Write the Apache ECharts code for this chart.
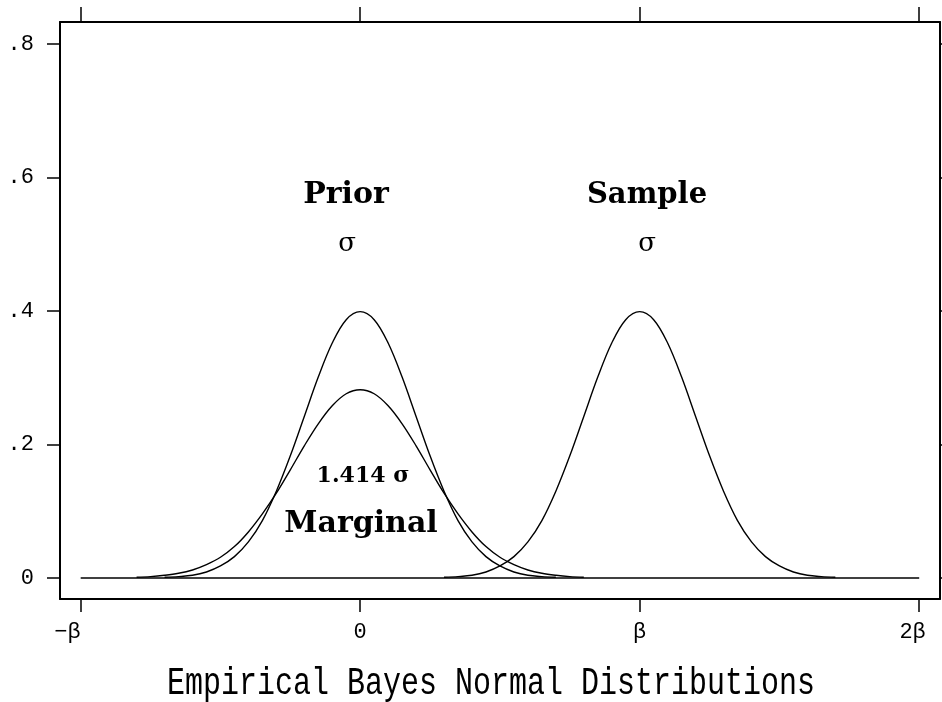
<!DOCTYPE html>
<html>
<head>
<meta charset="utf-8">
<script src="https://cdn.jsdelivr.net/npm/echarts@6/dist/echarts.min.js"></script>
<style>html,body{margin:0;padding:0;background:#fff}#c{width:942px;height:702px}</style>
</head>
<body>
<div id="c"></div>
<script>
// Tick positions (β = 5 units, σ = 1 unit)
const xTickValues = [-5, 0, 5, 10];
const xTickLabels = ['−β  ', '0', 'β', '2β '];
const yTickValues = [0, 0.2, 0.4, 0.6, 0.8];
const yTickLabels = ['0', '.2', '.4', '.6', '.8'];

// Prior curve (centred at 0, σ)
const priorX = [-3.5,-3.25,-3,-2.75,-2.5,-2.25,-2,-1.75,-1.5,-1.25,-1,-0.75,-0.5,-0.25,0,0.25,0.5,0.75,1,1.25,1.5,1.75,2,2.25,2.5,2.75,3,3.25,3.5];
const priorY = [0.001,0.002,0.004,0.009,0.018,0.032,0.054,0.086,0.130,0.183,0.242,0.301,0.352,0.387,0.399,0.387,0.352,0.301,0.242,0.183,0.130,0.086,0.054,0.032,0.018,0.009,0.004,0.002,0.001];

// Marginal curve (centred at 0, labelled 1.414 σ)
const marginalX = [-4,-3.75,-3.5,-3.25,-3,-2.75,-2.5,-2.25,-2,-1.75,-1.5,-1.25,-1,-0.75,-0.5,-0.25,0,0.25,0.5,0.75,1,1.25,1.5,1.75,2,2.25,2.5,2.75,3,3.25,3.5,3.75,4];
const marginalY = [0.001,0.002,0.004,0.007,0.012,0.020,0.031,0.047,0.069,0.096,0.127,0.162,0.198,0.231,0.258,0.276,0.282,0.276,0.258,0.231,0.198,0.162,0.127,0.096,0.069,0.047,0.031,0.020,0.012,0.007,0.004,0.002,0.001];

// Sample curve (centred at β, σ)
const sampleX = [1.5,1.75,2,2.25,2.5,2.75,3,3.25,3.5,3.75,4,4.25,4.5,4.75,5,5.25,5.5,5.75,6,6.25,6.5,6.75,7,7.25,7.5,7.75,8,8.25,8.5];
const sampleY = [0.001,0.002,0.004,0.009,0.018,0.032,0.054,0.086,0.130,0.183,0.242,0.301,0.352,0.387,0.399,0.387,0.352,0.301,0.242,0.183,0.130,0.086,0.054,0.032,0.018,0.009,0.004,0.002,0.001];

// Baseline
const baseX = [-5, 10];
const baseY = [0, 0];

const pairs = (xs, ys) => xs.map((x, i) => [x, ys[i]]);
const pick = (vals, labs) => v => { const i = vals.findIndex(t => Math.abs(t - v) < 1e-6); return i < 0 ? '' : labs[i]; };

const black = '#000';
const tickFont = { fontFamily: 'Liberation Mono', fontSize: 22, color: black };

const lineSeries = (name, data) => ({
  name, type: 'line', data, smooth: 0.35, symbol: 'none',
  lineStyle: { color: black, width: 1.4 }, silent: true, animation: false
});

const chart = echarts.init(document.getElementById('c'), null, { renderer: 'canvas' });
chart.setOption({
  animation: false,
  backgroundColor: '#fff',
  grid: { left: 60, right: 1, top: 22, bottom: 103, containLabel: false },
  xAxis: [
    {
      type: 'value', position: 'bottom', min: -5.37, max: 10.37,
      axisLine: { show: true, onZero: false, lineStyle: { color: black, width: 2 } },
      axisTick: { show: true, customValues: xTickValues, length: 13, lineStyle: { color: black, width: 1.5 } },
      axisLabel: { show: true, customValues: xTickValues, formatter: pick(xTickValues, xTickLabels), margin: 22, ...tickFont },
      splitLine: { show: false }
    },
    {
      type: 'value', position: 'top', min: -5.37, max: 10.37,
      axisLine: { show: true, onZero: false, lineStyle: { color: black, width: 2 } },
      axisTick: { show: true, customValues: xTickValues, length: 15, lineStyle: { color: black, width: 1.5 } },
      axisLabel: { show: false },
      splitLine: { show: false }
    }
  ],
  yAxis: [
    {
      type: 'value', position: 'left', min: -0.0315, max: 0.833,
      axisLine: { show: true, onZero: false, lineStyle: { color: black, width: 2 } },
      axisTick: { show: true, customValues: yTickValues, length: 13, lineStyle: { color: black, width: 1.5 } },
      axisLabel: { show: true, customValues: yTickValues, formatter: pick(yTickValues, yTickLabels), margin: 26, ...tickFont },
      splitLine: { show: false }
    },
    {
      type: 'value', position: 'right', min: -0.0315, max: 0.833,
      axisLine: { show: true, onZero: false, lineStyle: { color: black, width: 2 } },
      axisTick: { show: true, customValues: yTickValues, length: 13, lineStyle: { color: black, width: 1.5 } },
      axisLabel: { show: false },
      splitLine: { show: false }
    }
  ],
  series: [
    lineSeries('Baseline', pairs(baseX, baseY)),
    lineSeries('Marginal', pairs(marginalX, marginalY)),
    lineSeries('Prior', pairs(priorX, priorY)),
    lineSeries('Sample', pairs(sampleX, sampleY))
  ],
  graphic: [
    { type: 'text', x: 346, y: 195, style: { text: 'Prior', font: 'bold 30px "DejaVu Serif"', fill: black, textAlign: 'center', textVerticalAlign: 'middle' } },
    { type: 'text', x: 347, y: 244, style: { text: 'σ', font: '26px "DejaVu Serif"', fill: black, textAlign: 'center', textVerticalAlign: 'middle' } },
    { type: 'text', x: 647, y: 195, style: { text: 'Sample', font: 'bold 29px "DejaVu Serif"', fill: black, textAlign: 'center', textVerticalAlign: 'middle' } },
    { type: 'text', x: 647, y: 244, style: { text: 'σ', font: '26px "DejaVu Serif"', fill: black, textAlign: 'center', textVerticalAlign: 'middle' } },
    { type: 'text', x: 363, y: 476, style: { text: '1.414 σ', font: 'bold 22px "DejaVu Serif"', fill: black, textAlign: 'center', textVerticalAlign: 'middle' } },
    { type: 'text', x: 361, y: 524, style: { text: 'Marginal', font: 'bold 30px "DejaVu Serif"', fill: black, textAlign: 'center', textVerticalAlign: 'middle' } },
    { type: 'text', x: 491, y: 684, scaleY: 1.3, style: { text: 'Empirical Bayes Normal Distributions', font: '30px "Liberation Mono"', fill: black, textAlign: 'center', textVerticalAlign: 'middle' } }
  ]
});
</script>
</body>
</html>
